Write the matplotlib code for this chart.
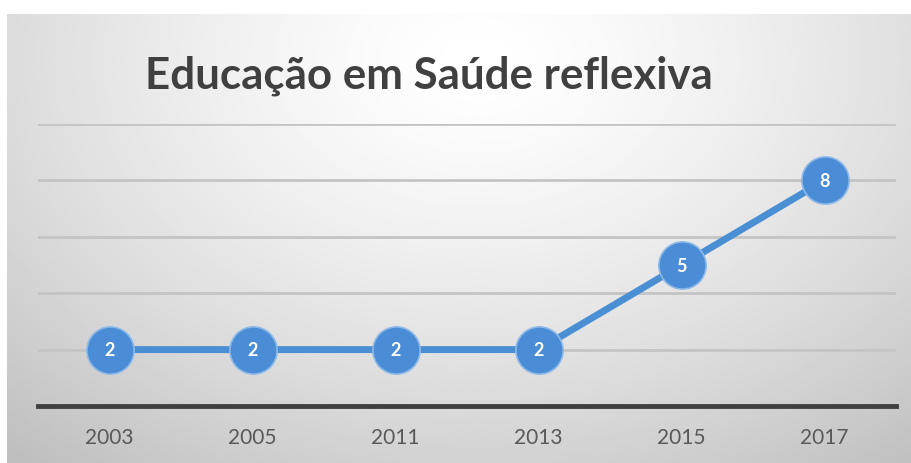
import matplotlib
import numpy as np

matplotlib.use("Agg")
import matplotlib.pyplot as plt

# data
years = ["2003", "2005", "2011", "2013", "2015", "2017"]
counts = [2, 2, 2, 2, 5, 8]
title = "Educação em Saúde reflexiva"

W, H = 911, 464
LINE_BLUE = "#4a8ed4"
MARKER_BLUE = "#4a8dd6"


def px(x0, y0, x1, y1):
    """Figure rect from pixel box (top-left origin)."""
    return [x0 / W, 1 - y1 / H, (x1 - x0) / W, (y1 - y0) / H]


fig = plt.figure(figsize=(W / 100, H / 100), dpi=100)
fig.patch.set_facecolor("white")

# radial grey gradient panel behind the chart
bg = fig.add_axes(px(7, 15, W, H))
gx, gy = np.meshgrid(np.linspace(0, 1, 400), np.linspace(0, 1, 200))
r = np.sqrt(((gx - 0.52) / 0.72) ** 2 + ((gy - 0.1) / 1.05) ** 2)
shade = 1.0 - 0.22 * np.clip(r, 0, 1.25) ** 1.4
bg.imshow(shade, cmap="gray", vmin=0, vmax=1, aspect="auto",
          extent=[0, 1, 1, 0], interpolation="bilinear")
bg.set_axis_off()

ax = fig.add_axes(px(38, 125, 896, 407))
ax.set_facecolor("none")
x = np.arange(len(years))
ax.set_xlim(-0.5, len(years) - 0.5)
ax.set_ylim(0, 10)
ax.set_yticks([2, 4, 6, 8, 10])
ax.yaxis.grid(True, color="#c4c4c4", linewidth=2)
ax.set_axisbelow(True)
ax.tick_params(axis="y", length=0, labelleft=False)
ax.tick_params(axis="x", length=0, pad=15, labelsize=15, labelcolor="#595959")
ax.set_xticks(x)
ax.set_xticklabels(years, fontfamily="Lato")
for side in ["left", "right", "top"]:
    ax.spines[side].set_visible(False)
ax.spines["bottom"].set_color("#404040")
ax.spines["bottom"].set_linewidth(3.5)

ax.plot(x, counts, color=LINE_BLUE, linewidth=5, marker="o", markersize=34,
        markerfacecolor=MARKER_BLUE, markeredgecolor="#8db9e8",
        markeredgewidth=1.2, clip_on=False, zorder=3)
for xi, v in zip(x, counts):
    ax.text(xi, v, str(v), ha="center", va="center", color="white",
            fontsize=13, fontweight="bold", fontfamily="Lato", zorder=4)

fig.text(145 / W, 1 - 88 / H, title, ha="left", va="baseline",
         fontsize=31.6, color="#404040", fontfamily="Lato", fontweight="bold")

fig.savefig("out.png", dpi=100)
